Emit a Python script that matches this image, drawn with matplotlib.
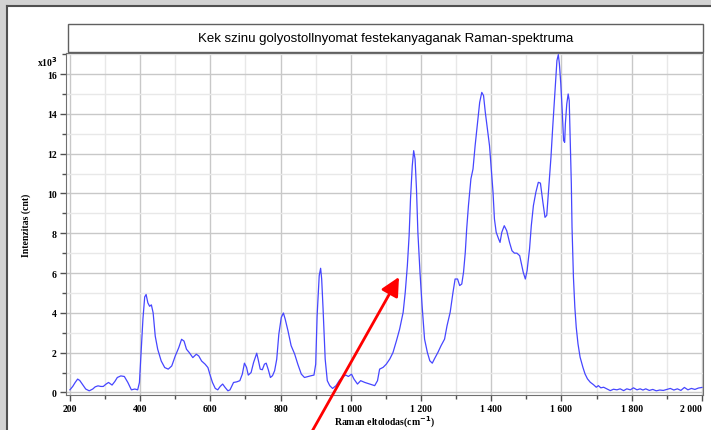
#!/usr/bin/env python3
"""Raman spectrum of blue ballpoint pen ink, redrawn from a screenshot."""

import matplotlib.pyplot as plt
from matplotlib.patches import Rectangle
from matplotlib.ticker import MultipleLocator, FuncFormatter

TITLE = "Kek szinu golyostollnyomat festekanyaganak Raman-spektruma"
X_LABEL = "Raman eltolodas(cm$^{\\mathbf{-1}}$)"
Y_LABEL = "Intenzitas (cnt)"

# Raman shift (cm-1) and intensity (x1000 counts)
raman_shift = [
    200, 208, 215, 222, 228, 235, 245, 255, 265, 272, 280, 288, 295, 303, 310,
    320, 328, 335, 345, 355, 365, 375, 385, 393, 398, 402, 408, 413, 417, 422,
    427, 432, 437, 443, 450, 460, 470, 480, 490, 500, 510, 518, 525, 532, 540,
    550, 560, 567, 575, 585, 593, 600, 606, 614, 621, 628, 635, 642, 650, 656,
    666, 675, 684, 691, 697, 703, 708, 716, 723, 732, 736, 742, 748, 754, 759,
    765, 771, 777, 783, 789, 795, 802, 808, 813, 821, 830, 840, 849, 859, 868,
    878, 887, 895, 900, 904, 910, 914, 917, 921, 927, 933, 940, 948, 958, 967,
    977, 986, 993, 1002, 1009, 1019, 1028, 1040, 1054, 1068, 1076, 1082, 1092,
    1101, 1111, 1120, 1130, 1139, 1149, 1155, 1161, 1166, 1170, 1175, 1179,
    1183, 1187, 1191, 1197, 1203, 1210, 1218, 1225, 1232, 1238, 1248, 1257,
    1267, 1274, 1283, 1291, 1297, 1304, 1310, 1316, 1321, 1326, 1330, 1335,
    1342, 1348, 1354, 1361, 1367, 1373, 1378, 1383, 1389, 1395, 1400, 1405,
    1409, 1414, 1421, 1425, 1430, 1437, 1444, 1452, 1459, 1466, 1473, 1481,
    1487, 1491, 1497, 1502, 1509, 1514, 1520, 1527, 1534, 1540, 1547, 1553,
    1558, 1563, 1570, 1575, 1581, 1587, 1591, 1594, 1598, 1602, 1606, 1609,
    1611, 1615, 1619, 1622, 1625, 1628, 1630, 1634, 1638, 1642, 1647, 1653,
    1661, 1667, 1674, 1682, 1691, 1699, 1705, 1712, 1720, 1729, 1739, 1748,
    1758, 1767, 1777, 1786, 1796, 1805, 1815, 1824, 1832, 1840, 1850, 1860,
    1870, 1880, 1890, 1900, 1910, 1920, 1930, 1940, 1950, 1960, 1970, 1980,
    1990, 2000,
]
intensity = [
    0.13, 0.30, 0.50, 0.67, 0.60, 0.42, 0.17, 0.08, 0.17, 0.28, 0.33, 0.30, 0.30, 0.42, 0.50,
    0.37, 0.55, 0.75, 0.83, 0.80, 0.50, 0.13, 0.17, 0.13, 0.50, 1.80, 3.70, 4.80, 4.92, 4.50,
    4.33, 4.40, 4.00, 2.83, 2.17, 1.58, 1.25, 1.17, 1.33, 1.83, 2.25, 2.67, 2.58, 2.17, 2.00,
    1.75, 1.92, 1.83, 1.58, 1.42, 1.25, 0.83, 0.50, 0.20, 0.13, 0.30, 0.42, 0.25, 0.08, 0.13,
    0.50, 0.53, 0.59, 0.92, 1.47, 1.26, 0.87, 1.00, 1.50, 1.97, 1.67, 1.17, 1.14, 1.42, 1.47,
    1.14, 0.75, 0.84, 1.09, 1.67, 2.93, 3.77, 3.99, 3.69, 3.10, 2.35, 1.93, 1.42, 0.92, 0.75,
    0.80, 0.84, 0.87, 1.42, 3.85, 5.87, 6.24, 5.70, 4.19, 1.67, 0.59, 0.34, 0.20, 0.34, 0.59,
    0.80, 0.87, 0.80, 0.92, 0.67, 0.42, 0.59, 0.50, 0.42, 0.34, 0.59, 1.17, 1.26,
    1.42, 1.68, 2.00, 2.60, 3.18, 4.02, 5.03, 6.37, 7.87, 9.72, 11.39, 12.15,
    11.73, 10.22, 8.04, 6.03, 4.36, 2.68, 2.01, 1.59, 1.47, 1.68, 2.01, 2.35,
    2.68, 3.35, 4.03, 5.03, 5.70, 5.70, 5.37, 5.45, 6.04, 7.04, 8.22, 9.39,
    10.73, 11.23, 12.40, 13.57, 14.58, 15.08, 14.92, 14.08, 13.24, 12.40, 11.23, 10.06,
    8.72, 8.05, 7.71, 7.54, 8.05, 8.38, 8.13, 7.54, 7.12, 7.00, 7.00, 6.87,
    6.37, 6.04, 5.70, 6.12, 7.21, 8.38, 9.39, 10.06, 10.56, 10.52, 9.56, 8.80,
    8.90, 10.14, 11.82, 13.33, 15.00, 16.68, 16.98, 16.51, 15.51, 14.17, 12.66, 12.57,
    13.49, 14.50, 15.00, 14.67, 12.49, 10.48, 8.30, 5.79, 4.28, 3.27, 2.44, 1.77,
    1.26, 0.93, 0.68, 0.51, 0.39, 0.26, 0.34, 0.23, 0.26, 0.18, 0.09, 0.16,
    0.13, 0.18, 0.09, 0.18, 0.13, 0.23, 0.13, 0.18, 0.12, 0.18, 0.10, 0.15,
    0.08, 0.12, 0.10, 0.15, 0.20, 0.12, 0.18, 0.10, 0.25, 0.13, 0.20, 0.15,
    0.22, 0.25,
]

SERIF = ["Liberation Serif", "DejaVu Serif"]
W, H = 711, 431


def thousands(v, _pos):
    return f"{int(v):,}".replace(",", " ")


def main() -> None:
    fig = plt.figure(figsize=(W / 100, H / 100), dpi=100, facecolor="#d3d3d3")

    # white panel with a dark left/top edge
    fig.add_artist(Rectangle((7 / W, 0), 1, (H - 7) / H, transform=fig.transFigure,
                             facecolor="white", edgecolor="none", zorder=0))
    fig.add_artist(plt.Line2D([7 / W, 7 / W], [0, (H - 7) / H], transform=fig.transFigure,
                              color="#505050", lw=1.5))
    fig.add_artist(plt.Line2D([7 / W, 1], [(H - 7) / H, (H - 7) / H], transform=fig.transFigure,
                              color="#505050", lw=1.5))

    # title box
    fig.add_artist(Rectangle((68 / W, (H - 52.5) / H), (703 - 68) / W, 27.5 / H,
                             transform=fig.transFigure, facecolor="white",
                             edgecolor="#606060", lw=1))
    fig.text((68 + 703) / 2 / W, (H - 39) / H, TITLE, ha="center", va="center",
             fontsize=9.5, family="Liberation Sans")

    ax = fig.add_axes([65.7 / W, (H - 396) / H, (703 - 65.7) / W, 342 / H])
    ax.plot(raman_shift, intensity, color="#4646ff", lw=0.9)

    ax.set_xlim(188, 2003)
    ax.set_ylim(-0.13, 17.06)
    ax.xaxis.set_major_locator(MultipleLocator(200))
    ax.xaxis.set_minor_locator(MultipleLocator(100))
    ax.yaxis.set_major_locator(MultipleLocator(2))
    ax.yaxis.set_minor_locator(MultipleLocator(1))
    ax.xaxis.set_major_formatter(FuncFormatter(thousands))

    ax.grid(True, which="major", color="#c8c8c8", lw=1)
    ax.grid(True, which="minor", color="#e8e8e8", lw=1)
    ax.set_axisbelow(True)

    for side in ax.spines.values():
        side.set_color("#707070")
    ax.tick_params(which="both", direction="out", colors="#505050", labelcolor="black")
    ax.tick_params(which="major", length=4, width=1, pad=2.5)
    ax.tick_params(which="minor", length=3, width=1)
    fig.canvas.draw()
    for lbl in ax.get_xticklabels() + ax.get_yticklabels():
        lbl.set_family(SERIF)
        lbl.set_fontweight("bold")
        lbl.set_fontsize(7)
    # the last x label sits against the right edge, as in the original
    xlabels = ax.get_xticklabels()
    for lbl in xlabels:
        if lbl.get_text() == "2 000":
            lbl.set_horizontalalignment("right")

    fig.text(384 / W, (H - 422) / H, X_LABEL, ha="center", va="center",
             family=SERIF, fontweight="bold", fontsize=7)
    fig.text(26 / W, (H - 225) / H, Y_LABEL, rotation=90, ha="center", va="center",
             family=SERIF, fontweight="bold", fontsize=7)
    fig.text(37 / W, (H - 62) / H, "x10$^{\\mathbf{3}}$", ha="left", va="center",
             family=SERIF, fontweight="bold", fontsize=7)

    # red arrow pointing at the 1179 band
    ax.annotate("", xy=(399, H - 278), xycoords="figure pixels",
                xytext=(310, -5), textcoords="figure pixels",
                arrowprops=dict(arrowstyle="-|>,head_length=0.8,head_width=0.4",
                                color="red", lw=2, mutation_scale=14,
                                shrinkA=0, shrinkB=0),
                annotation_clip=False)

    fig.savefig("out.png", dpi=100, facecolor=fig.get_facecolor())


if __name__ == "__main__":
    main()
